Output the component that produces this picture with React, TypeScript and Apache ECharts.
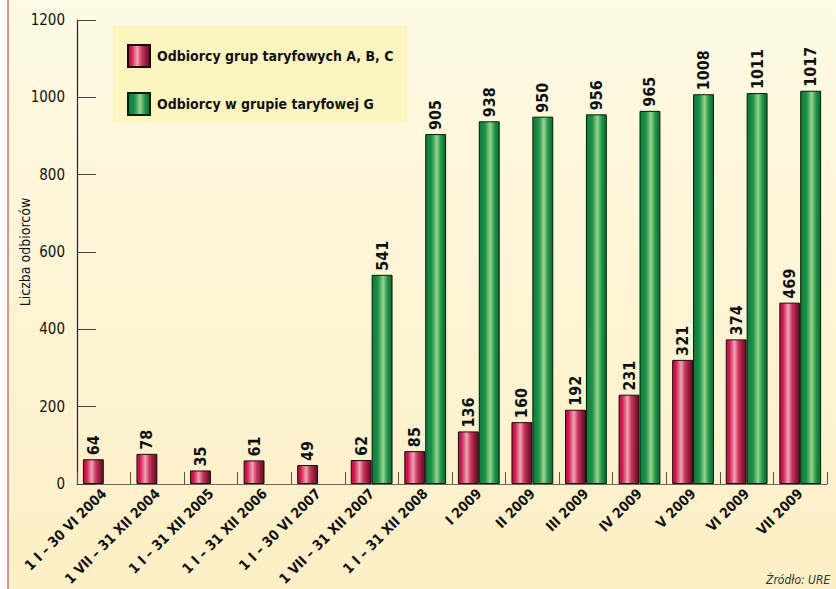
import React, { useEffect, useRef } from "react";
import * as echarts from "echarts";

const categories = [
  "1 I – 30 VI 2004",
  "1 VII – 31 XII 2004",
  "1 I – 31 XII 2005",
  "1 I – 31 XII 2006",
  "1 I – 30 VI 2007",
  "1 VII – 31 XII 2007",
  "1 I – 31 XII 2008",
  "I 2009",
  "II 2009",
  "III 2009",
  "IV 2009",
  "V 2009",
  "VI 2009",
  "VII 2009",
];
const groupABC = [64, 78, 35, 61, 49, 62, 85, 136, 160, 192, 231, 321, 374, 469];
const groupG = [null, null, null, null, null, 541, 905, 938, 950, 956, 965, 1008, 1011, 1017];
const seriesNames = ["Odbiorcy grup taryfowych A, B, C", "Odbiorcy w grupie taryfowej G"];
const yTicks = [0, 200, 400, 600, 800, 1000, 1200];

const FONT = '"Liberation Sans Narrow", "DejaVu Sans Condensed", "Roboto Condensed", "Liberation Sans", sans-serif';

export default function App() {
  const ref = useRef<HTMLDivElement>(null);
  useEffect(() => {
    document.body.style.margin = "0";
    if (!ref.current) return;
    const chart = echarts.init(ref.current, undefined, { renderer: "svg" });
    const redGrad = new echarts.graphic.LinearGradient(0, 0, 1, 0, [
      { offset: 0, color: "#bb0f40" },
      { offset: 0.15, color: "#d01650" },
      { offset: 0.42, color: "#efa4b6" },
      { offset: 0.62, color: "#c8365e" },
      { offset: 0.85, color: "#8a1636" },
      { offset: 1, color: "#5e0f25" },
    ]);
    const greenGrad = new echarts.graphic.LinearGradient(0, 0, 1, 0, [
      { offset: 0, color: "#0b7a3c" },
      { offset: 0.3, color: "#1e9248" },
      { offset: 0.55, color: "#9ad38e" },
      { offset: 0.78, color: "#1e9248" },
      { offset: 1, color: "#0a6a34" },
    ]);
    const labelCfg = {
      show: true,
      position: "top",
      rotate: 90,
      align: "left",
      verticalAlign: "middle",
      distance: 4,
      fontFamily: FONT,
      fontWeight: "bold",
      fontSize: 16,
      color: "#111",
    };
    chart.setOption({
      animation: false,
      backgroundColor: new echarts.graphic.LinearGradient(0, 0, 0, 1, [
        { offset: 0, color: "#fefae4" },
        { offset: 1, color: "#fdefc6" },
      ]),
      textStyle: { fontFamily: FONT },
      grid: { left: 77, right: 9, top: 20, bottom: 105, containLabel: false, outerBoundsMode: "none" },
      graphic: [
        { type: "rect", left: 0, top: 0, shape: { width: 7, height: 589 }, style: { fill: "#ffffff" }, z: -1 },
        { type: "rect", left: 7, top: 0, shape: { width: 2, height: 589 }, style: { fill: "#e98a8c" }, z: -1 },
        { type: "rect", left: 113, top: 26, shape: { width: 294, height: 96 }, style: { fill: "#fdf5c0" }, z: -1 },
        {
          type: "text",
          left: 766,
          top: 574,
          style: { text: "Źródło: URE", font: `italic 12px ${FONT}`, fill: "#333" },
        },
      ],
      legend: {
        orient: "vertical",
        left: 122,
        top: 39,
        itemWidth: 22,
        itemHeight: 22,
        itemGap: 24,
        icon: "rect",
        data: seriesNames,
        textStyle: { fontFamily: FONT, fontWeight: "bold", fontSize: 14, color: "#111", padding: [0, 0, 0, 2] },
      },
      xAxis: {
        type: "category",
        data: categories,
        boundaryGap: true,
        axisLine: { show: true, lineStyle: { color: "#666", width: 1.2 } },
        axisTick: { show: true, inside: true, length: 12, lineStyle: { color: "#555" } },
        axisLabel: {
          rotate: 45,
          interval: 0,
          margin: 7,
          fontFamily: FONT,
          fontWeight: "bold",
          fontSize: 14,
          color: "#111",
        },
      },
      yAxis: {
        type: "value",
        min: 0,
        max: 1200,
        interval: 200,
        name: "Liczba odbiorców",
        nameLocation: "middle",
        nameGap: 45,
        nameMoveOverlap: false,
        nameTextStyle: { fontFamily: FONT, fontSize: 14, color: "#111" },
        axisLine: { show: true, lineStyle: { color: "#222", width: 1.2 } },
        axisTick: { show: true, inside: true, length: 19, lineStyle: { color: "#444" } },
        splitLine: { show: false },
        axisLabel: {
          margin: 12,
          fontFamily: FONT,
          fontSize: 15,
          color: "#111",
          formatter: (v: number) => (yTicks.includes(v) ? String(v) : ""),
        },
      },
      series: [
        {
          name: seriesNames[0],
          type: "bar",
          data: groupABC,
          barGap: "0%",
          barCategoryGap: "22%",
          itemStyle: { color: redGrad, borderColor: "#1a0a0a", borderWidth: 1 },
          label: labelCfg,
        },
        {
          name: seriesNames[1],
          type: "bar",
          data: groupG,
          itemStyle: { color: greenGrad, borderColor: "#0a1a0a", borderWidth: 1 },
          label: labelCfg,
        },
      ],
    });
    return () => chart.dispose();
  }, []);
  return <div ref={ref} style={{ width: 836, height: 589 }} />;
}
